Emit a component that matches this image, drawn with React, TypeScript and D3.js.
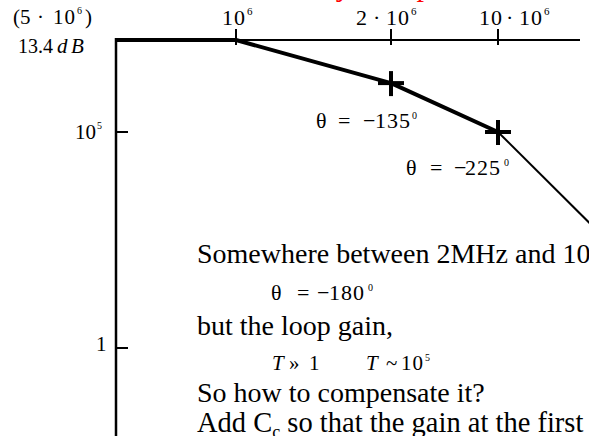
import React from "react";
import * as d3 from "d3";

const W = 589;
const H = 436;

// Open-loop gain (asymptotic) against frequency
const freqs = [0, 1e6, 2e6, 10e6, 17e6];
const gains = [5e6, 5e6, 8e5, 1e5, 700];
// Pole frequencies marked with a cross
const markedFreqs = [2e6, 10e6];
// Axis ticks
const xTickValues = [1e6, 2e6, 10e6];
const yTickValues = [1e5, 1];

const SERIF = "'Liberation Serif', 'Times New Roman', serif";

type Part = {
  t: string;
  x: number;
  dy?: number;
  size?: number;
  italic?: boolean;
  ls?: number;
};

function Rich({
  parts,
  y,
  size,
  fill = "#000",
}: {
  parts: Part[];
  y: number;
  size: number;
  fill?: string;
}) {
  return (
    <g fontFamily={SERIF} fill={fill}>
      {parts.map((p, i) => (
        <text
          key={i}
          x={p.x}
          y={y + (p.dy ?? 0)}
          fontSize={p.size ?? size}
          fontStyle={p.italic ? "italic" : "normal"}
          letterSpacing={p.ls ?? 0}
        >
          {p.t}
        </text>
      ))}
    </g>
  );
}

export default function App() {
  // Frequency axis: break points spaced for readability
  const x = d3.scaleLinear().domain([0, 1e6, 2e6, 10e6]).range([116, 236, 391, 498]);
  // Gain axis on log10 of gain
  const yl = d3.scaleLinear().domain([0, 5, Math.log10(5e6)]).range([348, 132, 40]);
  const y = (v: number) => yl(Math.log10(v));

  const pts = freqs.map((f, i) => ({ f, g: gains[i] }));
  const line = d3
    .line<{ f: number; g: number }>()
    .x((d) => x(d.f))
    .y((d) => y(d.g));

  const thick = pts.slice(0, 4);
  const thin = pts.slice(3);

  const gainAt = (f: number) => gains[freqs.indexOf(f)];

  return (
    <svg
      width={W}
      height={H}
      style={{ position: "absolute", left: 0, top: 0, background: "#fff" }}
    >
      <rect width={W} height={H} fill="#fff" />

      {/* heading, mostly above the visible area */}
      <text x={249} y={-4} fontFamily={SERIF} fontSize={30} fill="#ff0000">
        Stability Compensation
      </text>

      {/* axes */}
      <line x1={115} x2={580} y1={40} y2={40} stroke="#000" strokeWidth={2} />
      <line x1={116} x2={116} y1={38} y2={H + 2} stroke="#000" strokeWidth={2.5} />

      {xTickValues.map((v) => (
        <line key={v} x1={x(v)} x2={x(v)} y1={29} y2={45} stroke="#000" strokeWidth={2} />
      ))}
      {yTickValues.map((v) => (
        <line key={v} x1={116} x2={128} y1={y(v)} y2={y(v)} stroke="#000" strokeWidth={2} />
      ))}

      {/* gain curve */}
      <path d={line(thick) ?? ""} fill="none" stroke="#000" strokeWidth={4} strokeLinejoin="round" />
      <path d={line(thin) ?? ""} fill="none" stroke="#000" strokeWidth={2} />

      {markedFreqs.map((f) => {
        const cx = x(f);
        const cy = y(gainAt(f));
        return (
          <g key={f} stroke="#000" strokeWidth={4}>
            <line x1={cx - 13} x2={cx + 13} y1={cy} y2={cy} />
            <line x1={cx} x2={cx} y1={cy - 12} y2={cy + 13} />
          </g>
        );
      })}

      {/* frequency tick labels */}
      <Rich
        y={25}
        size={22}
        parts={[
          { t: "10", x: 222, ls: 1 },
          { t: "6", x: 247, dy: -10, size: 11 },
        ]}
      />
      <Rich
        y={25}
        size={22}
        parts={[
          { t: "2", x: 356 },
          { t: "·", x: 373 },
          { t: "10", x: 386, ls: 1 },
          { t: "6", x: 411, dy: -10, size: 11 },
        ]}
      />
      <Rich
        y={25}
        size={22}
        parts={[
          { t: "10", x: 479, ls: 1 },
          { t: "·", x: 506 },
          { t: "10", x: 519, ls: 1 },
          { t: "6", x: 544, dy: -10, size: 11 },
        ]}
      />

      {/* gain labels */}
      <Rich
        y={24}
        size={21}
        parts={[
          { t: "(", x: 13 },
          { t: "5", x: 20 },
          { t: "·", x: 37 },
          { t: "10", x: 53, ls: 1 },
          { t: "6", x: 77, dy: -10, size: 10 },
          { t: ")", x: 85 },
        ]}
      />
      <Rich
        y={53}
        size={20}
        parts={[
          { t: "13.4", x: 18 },
          { t: "d", x: 57, italic: true, size: 21 },
          { t: "B", x: 71, italic: true, size: 21 },
        ]}
      />
      <Rich
        y={139}
        size={21}
        parts={[
          { t: "10", x: 75 },
          { t: "5", x: 97, dy: -10, size: 10 },
        ]}
      />
      <Rich y={351} size={21} parts={[{ t: "1", x: 96 }]} />

      {/* phase annotations */}
      <Rich
        y={128}
        size={22}
        parts={[
          { t: "θ", x: 316 },
          { t: "=", x: 338 },
          { t: "−", x: 363 },
          { t: "135", x: 375, ls: 1 },
          { t: "0", x: 412, dy: -9, size: 10 },
        ]}
      />
      <Rich
        y={175}
        size={22}
        parts={[
          { t: "θ", x: 406 },
          { t: "=", x: 430 },
          { t: "−", x: 454 },
          { t: "225", x: 465, ls: 1 },
          { t: "0", x: 504, dy: -9, size: 10 },
        ]}
      />

      {/* commentary */}
      <Rich y={263} size={28} parts={[{ t: "Somewhere between 2MHz and 10MHz,", x: 197 }]} />
      <Rich
        y={300}
        size={22}
        parts={[
          { t: "θ", x: 271 },
          { t: "=", x: 297 },
          { t: "−", x: 317 },
          { t: "180", x: 329, ls: 1 },
          { t: "0", x: 368, dy: -9, size: 10 },
        ]}
      />
      <Rich y={335} size={28} parts={[{ t: "but the loop gain,", x: 197 }]} />
      <Rich
        y={370}
        size={21}
        parts={[
          { t: "T", x: 272, italic: true },
          { t: "»", x: 289 },
          { t: "1", x: 309 },
          { t: "T", x: 366, italic: true },
          { t: "~", x: 386 },
          { t: "10", x: 401, ls: 1 },
          { t: "5", x: 425, dy: -9, size: 10 },
        ]}
      />
      <Rich y={402} size={28} parts={[{ t: "So how to compensate it?", x: 197 }]} />
      <g fontFamily={SERIF} fontSize={28.5} fill="#000">
        <text x={197} y={432}>
          Add C
          <tspan fontSize={18} dy={6}>c</tspan>
          <tspan dy={-6}> so that the gain at the first pole</tspan>
        </text>
      </g>
    </svg>
  );
}
